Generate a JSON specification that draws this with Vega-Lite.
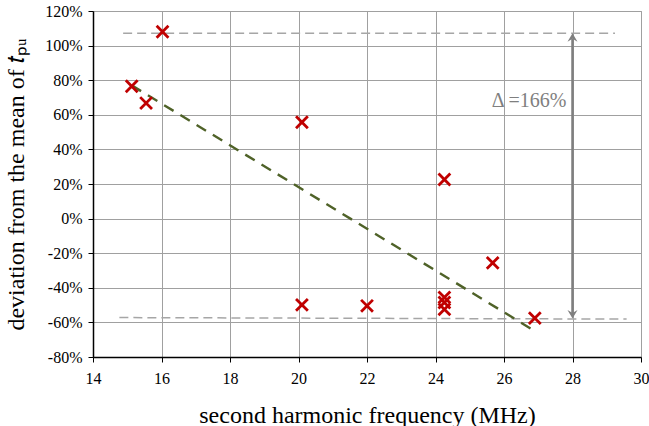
{
  "$schema": "https://vega.github.io/schema/vega-lite/v6.json",
  "autosize": "none",
  "width": 548,
  "height": 346,
  "padding": {"left": 93, "top": 11, "right": 8, "bottom": 69},
  "background": "white",
  "config": {
    "view": {"stroke": "#a0a0a0", "strokeWidth": 1},
    "font": "Liberation Serif",
    "axis": {
      "labelFont": "Liberation Serif",
      "titleFont": "Liberation Serif",
      "labelFontSize": 16,
      "labelColor": "#000",
      "titleFontSize": 24,
      "titleFontWeight": "normal",
      "titleColor": "#000",
      "gridColor": "#a0a0a0",
      "gridWidth": 1,
      "gridOpacity": 1,
      "domainColor": "#000",
      "domainWidth": 1.5,
      "tickColor": "#000",
      "tickSize": 5,
      "labelOverlap": false,
      "labelFlush": false
    }
  },
  "datasets": {
    "pts": [
      {"x": 15.13, "y": 76.5},
      {"x": 15.55, "y": 66.8},
      {"x": 16.03, "y": 108},
      {"x": 20.1, "y": 55.7},
      {"x": 20.1, "y": -49.9},
      {"x": 22.0, "y": -50.4},
      {"x": 24.26, "y": 22.6},
      {"x": 24.26, "y": -45.5},
      {"x": 24.26, "y": -48.5},
      {"x": 24.26, "y": -52.5},
      {"x": 25.67, "y": -25.6},
      {"x": 26.9, "y": -57.5}
    ],
    "trend": [
      {"x": 15.13, "y": 77},
      {"x": 26.9, "y": -65}
    ],
    "limits": [
      {"g": "top", "x": 14.88, "y": 107.2},
      {"g": "top", "x": 29.24, "y": 107.2},
      {"g": "bot", "x": 14.77, "y": -57.2},
      {"g": "bot", "x": 29.58, "y": -58.1}
    ],
    "arrow": [{"x": 28, "y": 104, "y2": -55}],
    "heads": [
      {"x": 28, "y": 107.2, "dir": "up"},
      {"x": 28, "y": -57.8, "dir": "down"}
    ],
    "label": [{"x": 27.82, "y": 68, "t": "Δ =166%"}]
  },
  "layer": [
    {
      "data": {"name": "limits"},
      "mark": {"type": "line", "color": "#a6a6a6", "strokeWidth": 1.5, "strokeDash": [9, 5]},
      "encoding": {
        "x": {
          "field": "x", "type": "quantitative",
          "scale": {"domain": [14, 30], "nice": false},
          "axis": {
            "values": [14, 16, 18, 20, 22, 24, 26, 28, 30],
            "tickCount": 20,
            "title": "second harmonic frequency (MHz)",
            "labelFont": "Liberation Serif",
            "titleFont": "Liberation Serif",
            "labelFontSize": 16,
            "labelOverlap": false,
            "labelPadding": 8,
            "titlePadding": 17
          }
        },
        "y": {
          "field": "y", "type": "quantitative",
          "scale": {"domain": [-80, 120], "nice": false},
          "axis": {
            "values": [-80, -60, -40, -20, 0, 20, 40, 60, 80, 100, 120],
            "tickCount": 20,
            "labelExpr": "datum.value + '%'",
            "title": "deviation from the mean of 𝑡ₚᵤ",
            "labelFont": "Liberation Serif",
            "titleFont": "Liberation Serif",
            "labelFontSize": 16,
            "labelOverlap": false,
            "labelPadding": 6,
            "titlePadding": 16
          }
        },
        "detail": {"field": "g"}
      }
    },
    {
      "data": {"name": "trend"},
      "mark": {"type": "line", "color": "#4f6228", "strokeWidth": 2.4, "strokeDash": [11, 8]},
      "encoding": {
        "x": {"field": "x", "type": "quantitative"},
        "y": {"field": "y", "type": "quantitative"}
      }
    },
    {
      "data": {"name": "arrow"},
      "mark": {"type": "rule", "color": "#7f7f7f", "strokeWidth": 2.5},
      "encoding": {
        "x": {"field": "x", "type": "quantitative"},
        "y": {"field": "y", "type": "quantitative"},
        "y2": {"field": "y2"}
      }
    },
    {
      "data": {"name": "heads"},
      "transform": [{"filter": "datum.dir == 'up'"}],
      "mark": {"type": "point", "shape": "M0,0L1,1.7L0,1.1L-1,1.7Z", "filled": true, "color": "#7f7f7f", "opacity": 1, "size": 100},
      "encoding": {
        "x": {"field": "x", "type": "quantitative"},
        "y": {"field": "y", "type": "quantitative"}
      }
    },
    {
      "data": {"name": "heads"},
      "transform": [{"filter": "datum.dir == 'down'"}],
      "mark": {"type": "point", "shape": "M0,0L1,-1.7L0,-1.1L-1,-1.7Z", "filled": true, "color": "#7f7f7f", "opacity": 1, "size": 100},
      "encoding": {
        "x": {"field": "x", "type": "quantitative"},
        "y": {"field": "y", "type": "quantitative"}
      }
    },
    {
      "data": {"name": "label"},
      "mark": {"type": "text", "align": "right", "baseline": "middle", "font": "Liberation Serif", "fontSize": 20, "color": "#7f7f7f"},
      "encoding": {
        "x": {"field": "x", "type": "quantitative"},
        "y": {"field": "y", "type": "quantitative"},
        "text": {"field": "t"}
      }
    },
    {
      "data": {"name": "pts"},
      "mark": {"type": "point", "shape": "M-1,-1L1,1M-1,1L1,-1", "filled": false, "color": "#c00000", "strokeWidth": 2.8, "opacity": 1, "size": 140},
      "encoding": {
        "x": {"field": "x", "type": "quantitative"},
        "y": {"field": "y", "type": "quantitative"}
      }
    }
  ]
}
